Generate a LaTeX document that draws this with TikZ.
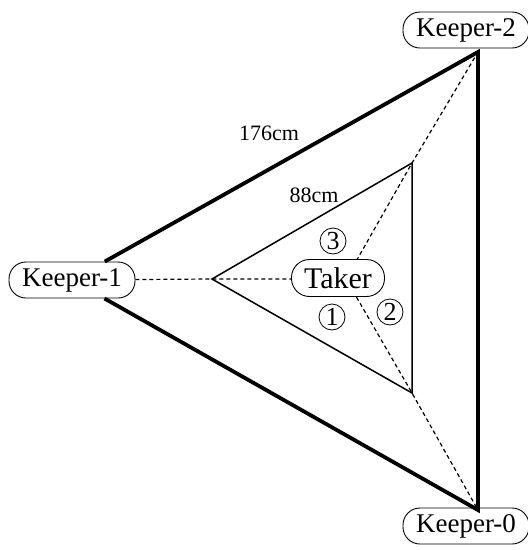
\documentclass[tikz,border=0pt]{standalone}
\usepackage{fontspec}
\setmainfont{Liberation Serif}
\tikzset{
  keeper/.style={draw, line width=0.9pt, rounded corners=17pt, minimum width=126pt, minimum height=36pt, inner sep=0pt, fill=white, font=\fontsize{27}{29}\selectfont},
  taker/.style={draw, line width=0.9pt, rounded corners=18pt, minimum width=93pt, minimum height=37pt, inner sep=0pt, fill=white, font=\fontsize{30}{32}\selectfont},
  num/.style={draw, circle, line width=0.8pt, minimum size=26pt, inner sep=0pt, font=\fontsize{26}{27}\selectfont},
  lbl/.style={font=\fontsize{22}{24}\selectfont, inner sep=0pt},
  outer/.style={line width=3.8pt, line join=miter},
  inner/.style={line width=1.5pt, line join=miter},
  guide/.style={line width=1.2pt, dash pattern=on 4pt off 3pt}
}
\begin{document}
\begin{tikzpicture}[x=1pt,y=-1pt]
\useasboundingbox (0,0) rectangle (528,550);
\coordinate (O2) at (478,52);
\coordinate (O0) at (478,510);
\coordinate (I1) at (212,279);
\coordinate (I2) at (412,163);
\coordinate (I0) at (412,393);
\coordinate (T0) at (346,279);
\node[keeper] (K1) at (72,280) {Keeper-1};
\node[keeper] (K2) at (466,30) {Keeper-2};
\node[keeper] (K0) at (466,526) {Keeper-0};
\draw[outer] (K1) -- (O2) -- (O0) -- (K1);
\draw[inner] (I1) -- (I2) -- (I0) -- cycle;
\draw[guide] (K1) -- (I1) -- (T0);
\draw[guide] (T0) -- (I2) -- (O2);
\draw[guide] (T0) -- (I0) -- (O0);
\node[taker] (T) at (338,278) {Taker};
\node[num] (n3) at (333,241) {3};
\node[num] (n1) at (332,317) {1};
\node[num] (n2) at (390,312) {2};
\node[lbl] (l176) at (269,133) {176cm};
\node[lbl] (l88) at (314,195) {88cm};
\end{tikzpicture}
\end{document}
